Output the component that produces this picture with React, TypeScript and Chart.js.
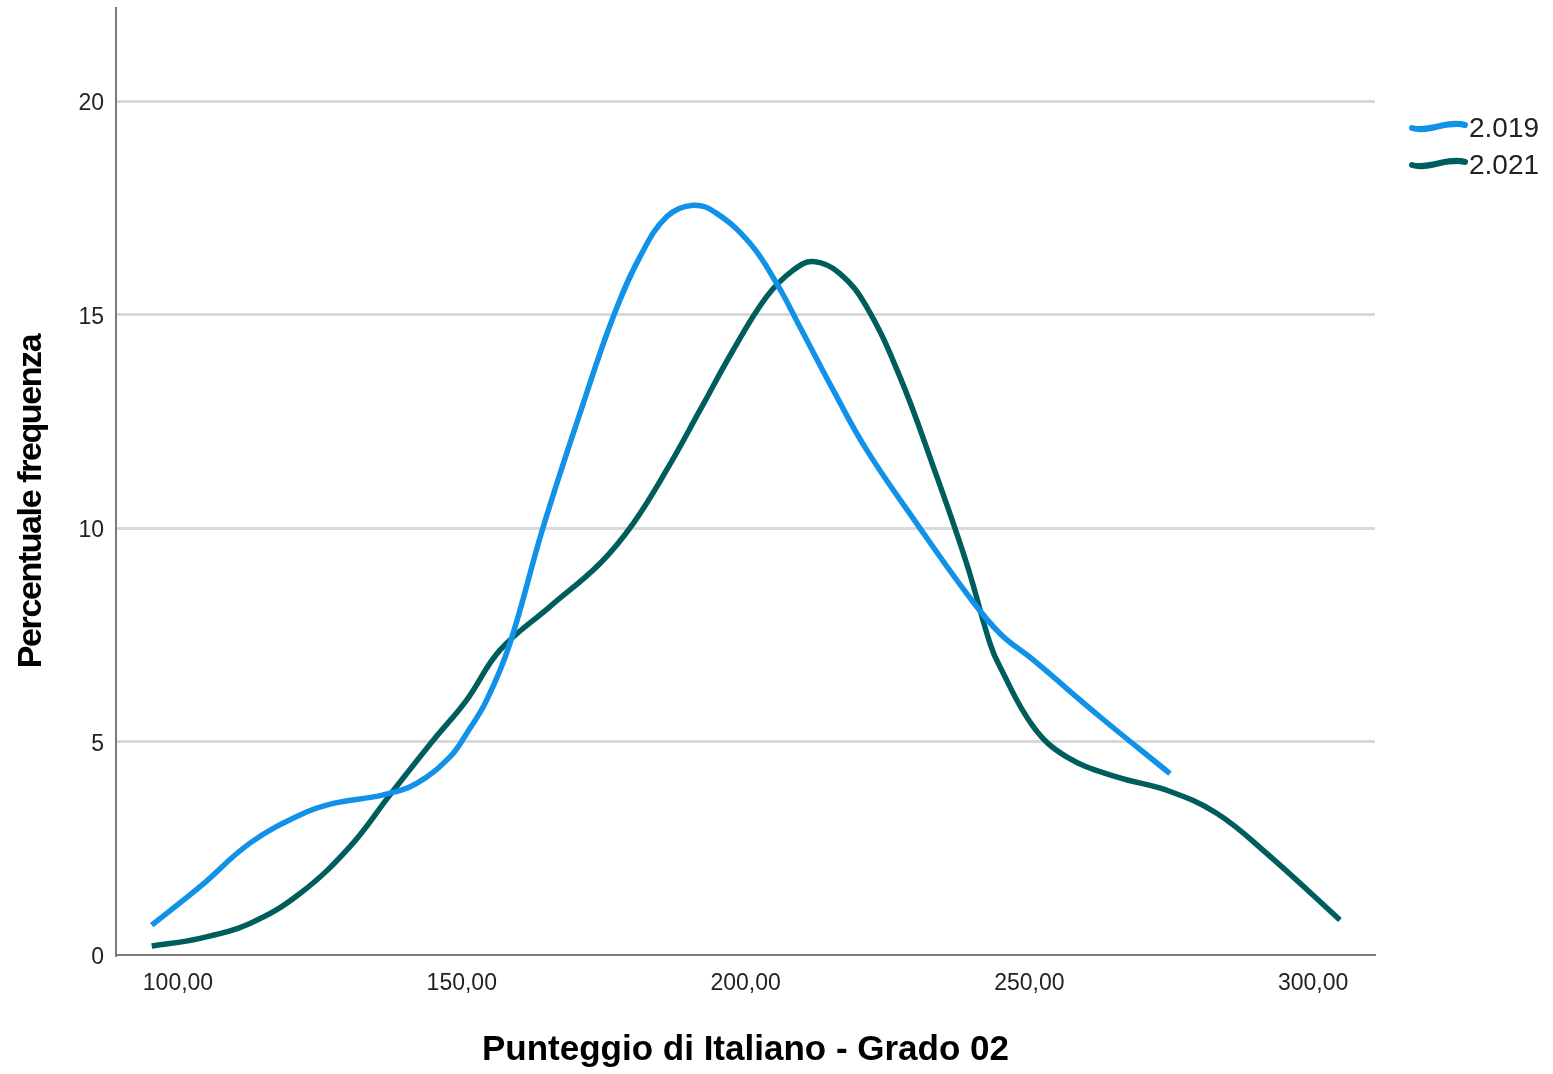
import React, { useEffect, useRef } from 'react';
import { Chart, registerables } from 'chart.js';

Chart.register(...registerables);

const seriesLabels = ['2.019', '2.021'];
const seriesColors = ['#1192e8', '#005d5d'];

const x2019 = [95.37, 103.88, 112.68, 121.49, 127.36, 136.17, 142.05, 147.92, 150.86, 154.39, 158.49, 164.36, 171.41, 176.69, 181.39, 186.1, 190.79, 194.91, 200.78, 205.48, 209.59, 215.45, 221.33, 230.14, 238.95, 244.82, 250.69, 262.44, 274.77];
const y2019 = [0.7, 1.6, 2.62, 3.28, 3.55, 3.75, 4.02, 4.64, 5.19, 5.97, 7.3, 10.03, 12.92, 14.95, 16.35, 17.29, 17.56, 17.37, 16.67, 15.73, 14.71, 13.23, 11.83, 10.11, 8.47, 7.53, 6.91, 5.58, 4.25];

const x2021 = [95.37, 103.88, 112.68, 121.49, 130.3, 137.35, 144.98, 150.86, 156.73, 165.54, 174.35, 180.22, 186.1, 191.97, 197.83, 203.72, 208.4, 211.93, 216.63, 221.33, 227.2, 233.07, 238.95, 243.06, 244.82, 250.69, 256.57, 265.38, 274.19, 283.0, 291.81, 304.72];
const y2021 = [0.21, 0.39, 0.74, 1.44, 2.54, 3.75, 5.03, 5.97, 7.14, 8.16, 9.17, 10.11, 11.36, 12.76, 14.17, 15.42, 16.04, 16.24, 15.96, 15.18, 13.54, 11.44, 9.17, 7.3, 6.75, 5.35, 4.64, 4.17, 3.86, 3.32, 2.38, 0.82];

const xTickValues = [100, 150, 200, 250, 300];
const yTickValues = [0, 5, 10, 15, 20];
const xAxisTitle = 'Punteggio di Italiano - Grado 02';
const yAxisTitle = 'Percentuale frequenza';

const FONT = '"Liberation Sans", Arial, Helvetica, sans-serif';

const titlesAndLegend = {
  id: 'titlesAndLegend',
  afterDraw(chart: any) {
    const ctx = chart.ctx as CanvasRenderingContext2D;
    const area = chart.chartArea;
    ctx.save();
    ctx.fillStyle = '#000';
    ctx.font = `bold 35px ${FONT}`;
    ctx.textAlign = 'center';
    ctx.textBaseline = 'alphabetic';
    ctx.fillText(xAxisTitle, (area.left + area.right) / 2, 1060);
    ctx.save();
    ctx.translate(41, 501.5);
    ctx.rotate(-Math.PI / 2);
    ctx.font = `bold 34px ${FONT}`;
    (ctx as any).letterSpacing = '-1.4px';
    ctx.fillText(yAxisTitle, 0, 0);
    ctx.restore();
    const legendY = [128, 165];
    seriesLabels.forEach((label, i) => {
      const y = legendY[i];
      ctx.beginPath();
      ctx.strokeStyle = seriesColors[i];
      ctx.lineWidth = 6;
      ctx.lineCap = 'round';
      ctx.moveTo(1412, y);
      ctx.bezierCurveTo(1428, y + 5, 1448, y - 8, 1465, y - 3);
      ctx.stroke();
      ctx.fillStyle = '#222';
      ctx.font = `28px ${FONT}`;
      ctx.textAlign = 'left';
      ctx.textBaseline = 'middle';
      ctx.fillText(label, 1469, y + 1);
    });
    ctx.restore();
  },
};

export default function App() {
  const canvasRef = useRef<HTMLCanvasElement | null>(null);

  useEffect(() => {
    if (!canvasRef.current) return;
    const chart = new Chart(canvasRef.current, {
      type: 'line',
      data: {
        datasets: [
          {
            label: seriesLabels[0],
            data: x2019.map((x, i) => ({ x, y: y2019[i] })),
            borderColor: seriesColors[0],
            backgroundColor: seriesColors[0],
            borderWidth: 5.5,
            pointRadius: 0,
            tension: 0.4,
            fill: false,
          },
          {
            label: seriesLabels[1],
            data: x2021.map((x, i) => ({ x, y: y2021[i] })),
            borderColor: seriesColors[1],
            backgroundColor: seriesColors[1],
            borderWidth: 5.5,
            pointRadius: 0,
            tension: 0.4,
            fill: false,
          },
        ],
      },
      options: {
        animation: false,
        responsive: false,
        devicePixelRatio: 1,
        layout: { padding: { left: 0, right: 178, top: 8, bottom: 0 } },
        plugins: { legend: { display: false }, tooltip: { enabled: false } },
        scales: {
          x: {
            type: 'linear',
            position: 'bottom',
            min: 89.08,
            max: 310.9,
            afterFit: (s: any) => { s.height = 119; s.paddingLeft = 0; s.paddingRight = 0; },
            afterBuildTicks: (s: any) => { s.ticks = xTickValues.map((v) => ({ value: v })); },
            grid: { display: false, drawTicks: false },
            border: { display: true, color: '#7a7a7a', width: 2 },
            ticks: {
              autoSkip: false,
              maxRotation: 0,
              padding: 15,
              color: '#222',
              font: { family: FONT, size: 23 },
              callback: (v: any) => Number(v).toFixed(2).replace('.', ','),
            },
          },
          y: {
            type: 'linear',
            position: 'left',
            min: 0,
            max: 22.18,
            afterFit: (s: any) => { s.width = 116; s.paddingTop = 0; s.paddingBottom = 0; },
            afterBuildTicks: (s: any) => { s.ticks = yTickValues.map((v) => ({ value: v })); },
            grid: {
              drawTicks: false,
              lineWidth: 3,
              color: (c: any) => (c.tick && c.tick.value === 0 ? 'rgba(0,0,0,0)' : '#d9d9d9'),
            },
            border: { display: true, color: '#7a7a7a', width: 2 },
            ticks: {
              padding: 12,
              labelOffset: 3,
              color: '#222',
              font: { family: FONT, size: 23 },
              callback: (v: any) => String(v),
            },
          },
        },
      },
      plugins: [titlesAndLegend],
    } as any);
    return () => chart.destroy();
  }, []);

  return (
    <div style={{ position: 'fixed', left: 0, top: 0, width: 1553, height: 1074, background: '#fff' }}>
      <canvas ref={canvasRef} width={1553} height={1074} style={{ display: 'block' }} />
    </div>
  );
}
